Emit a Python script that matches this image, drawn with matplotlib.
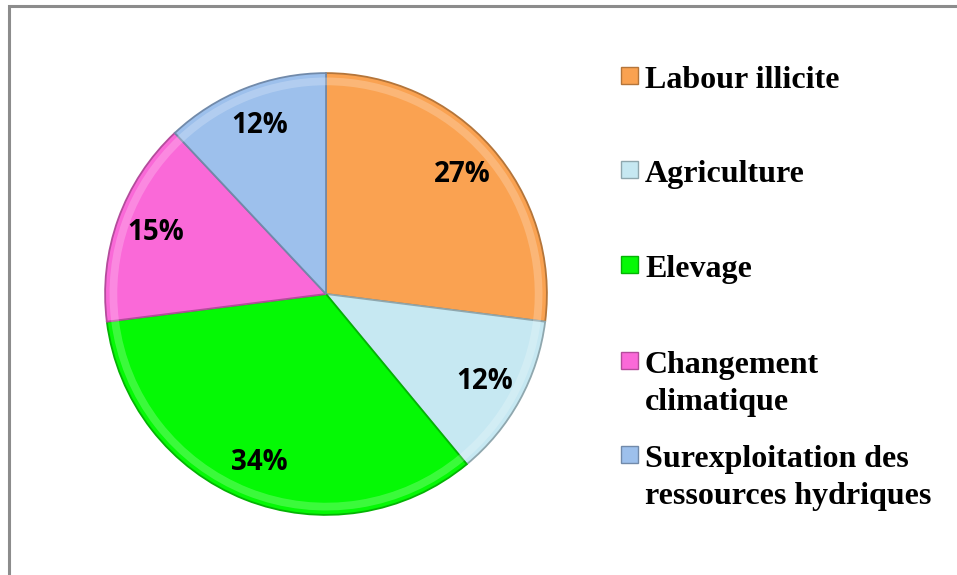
import matplotlib
matplotlib.use("Agg")
import matplotlib.pyplot as plt
from matplotlib.patches import Rectangle
import matplotlib.colors as mcolors

categories = ["Labour illicite", "Agriculture", "Elevage",
              "Changement\nclimatique", "Surexploitation des\nressources hydriques"]
values = [27, 12, 34, 15, 12]
colors = ["#FAA251", "#C6E8F2", "#05F905", "#FA69D8", "#9DC0EC"]

W, H = 957, 575
fig = plt.figure(figsize=(W / 100, H / 100), dpi=100)
fig.patch.set_facecolor("white")

def px(x, y):
    return x / W, 1 - y / H

# outer frame
fig.patches.append(Rectangle(px(9, 600), (1000) / W, (600 - 6) / H,
                             transform=fig.transFigure, fill=False,
                             edgecolor="#8C8C8C", linewidth=2.2))

cx, cy, r = 326, 294, 222
ax = fig.add_axes([(cx - r) / W, 1 - (cy + r) / H, 2 * r / W, 2 * r / H])

edge = [tuple(c * 0.72 for c in mcolors.to_rgb(col)) for col in colors]
wedges, texts, autotexts = ax.pie(
    values, colors=colors, startangle=90, counterclock=False, radius=1,
    autopct=lambda p: f"{p:.0f}%", pctdistance=0.82,
    textprops=dict(fontsize=20, fontweight="bold", family="Open Sans", color="black"),
    wedgeprops=dict(linewidth=1.3),
)
for w, e in zip(wedges, edge):
    w.set_edgecolor(e)

# bevel highlight along the outer rim
ax.pie(values, colors=["white"] * len(values), startangle=90, counterclock=False,
       radius=0.98, wedgeprops=dict(width=0.035, alpha=0.22, linewidth=0))

ax.set_xlim(-1.005, 1.005)
ax.set_ylim(-1.005, 1.005)
ax.set_aspect("equal")
ax.axis("off")

# manual legend
base_y = [88, 182, 277, 373, 467]
for cat, col, e, by in zip(categories, colors, edge, base_y):
    fig.patches.append(Rectangle(px(621, by - 4), 17 / W, 17 / H,
                                 transform=fig.transFigure, facecolor=col,
                                 edgecolor=e, linewidth=1))
    lines = cat.split("\n")
    for i, line in enumerate(lines):
        fig.text(*px(645, by + 37 * i), line, family="Liberation Serif",
                 fontweight="bold", fontsize=23, va="baseline", ha="left")

fig.savefig("out.png", dpi=100, facecolor="white")
